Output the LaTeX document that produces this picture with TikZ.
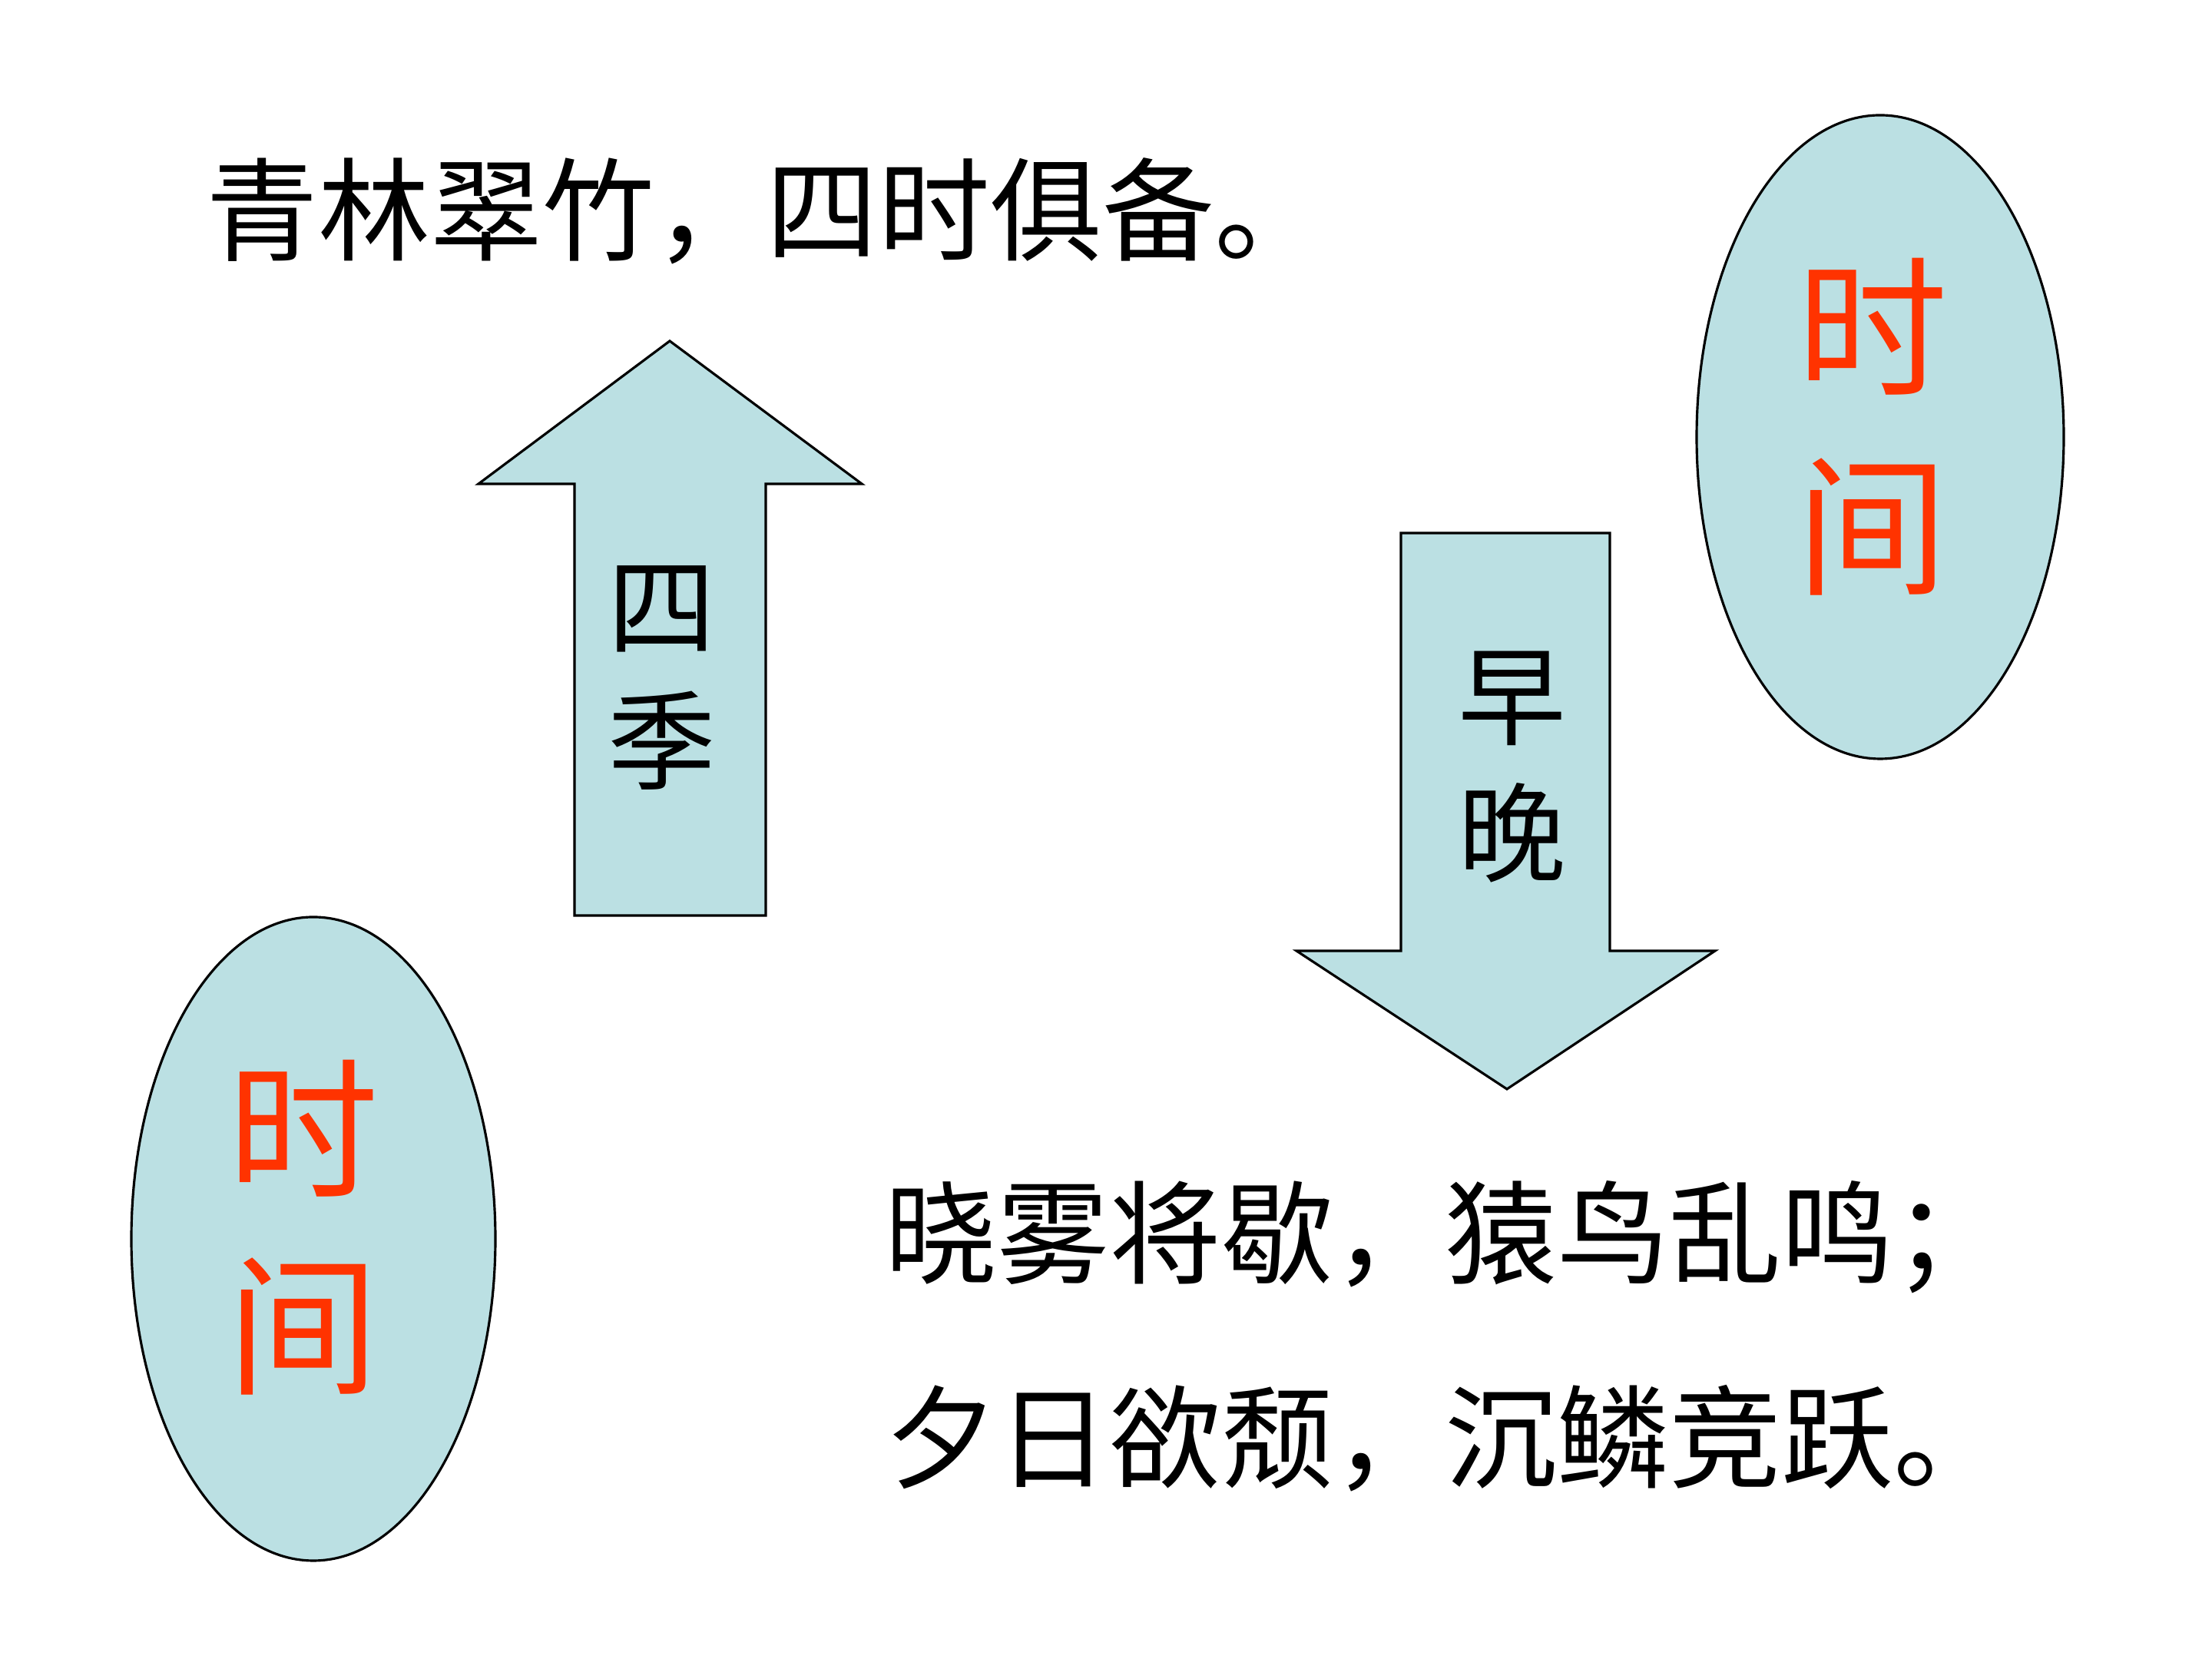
\documentclass[tikz,border=0pt]{standalone}
\usepackage{fontspec}
\usepackage{tikz}
\usetikzlibrary{positioning}
\newfontfamily\cjk{Noto Sans CJK SC}
\definecolor{paleblue}{HTML}{BBE0E3}
\definecolor{timered}{HTML}{FF3300}
\tikzset{
    blueshape/.style={fill=paleblue, draw=black, line width=0.9pt},
    poem/.style={font=\cjk\fontsize{41.5}{41.5}\selectfont, inner sep=0pt},
    arrowlabel/.style={font=\cjk\fontsize{40}{40}\selectfont, inner sep=0pt},
    timelabel/.style={font=\cjk\fontsize{56}{56}\selectfont, text=timered, inner sep=0pt}
}
\begin{document}
\begin{tikzpicture}
    \useasboundingbox (0,0) rectangle (28.8,21.6);
    \fill[white] (0,0) rectangle (28.8,21.6);

    % top line of the poem
    \node[poem, anchor=west] (spring) at (2.68,18.85) {青林翠竹，四时俱备。};

    % up arrow: seasons
    \draw[blueshape] (7.48,9.68) -- (7.48,15.30) -- (6.23,15.30) -- (8.72,17.16)
        -- (11.22,15.30) -- (9.97,15.30) -- (9.97,9.68) -- cycle;
    \node[arrowlabel] (si) at (8.62,13.67) {四};
    \node[arrowlabel] (ji) at (8.62,11.96) {季};

    % down arrow: morning and evening
    \draw[blueshape] (18.24,14.66) -- (20.96,14.66) -- (20.96,9.22) -- (22.33,9.22)
        -- (19.62,7.42) -- (16.88,9.22) -- (18.24,9.22) -- cycle;
    \node[arrowlabel] (zao) at (19.69,12.51) {早};
    \node[arrowlabel] (wan) at (19.69,10.76) {晚};

    % right ellipse
    \draw[blueshape] (24.48,15.91) ellipse (2.39cm and 4.19cm);
    \node[timelabel] (shiR) at (24.38,17.35) {时};
    \node[timelabel] (jianR) at (24.38,14.74) {间};

    % left ellipse
    \draw[blueshape] (4.08,5.47) ellipse (2.37cm and 4.19cm);
    \node[timelabel] (shiL) at (3.95,6.91) {时};
    \node[timelabel] (jianL) at (3.95,4.33) {间};

    % bottom lines of the poem
    \node[poem, anchor=west] (dawn) at (11.52,5.49) {晓雾将歇，猿鸟乱鸣；};
    \node[poem, anchor=west] (dusk) at (11.52,2.87) {夕日欲颓，沉鳞竞跃。};
\end{tikzpicture}
\end{document}
